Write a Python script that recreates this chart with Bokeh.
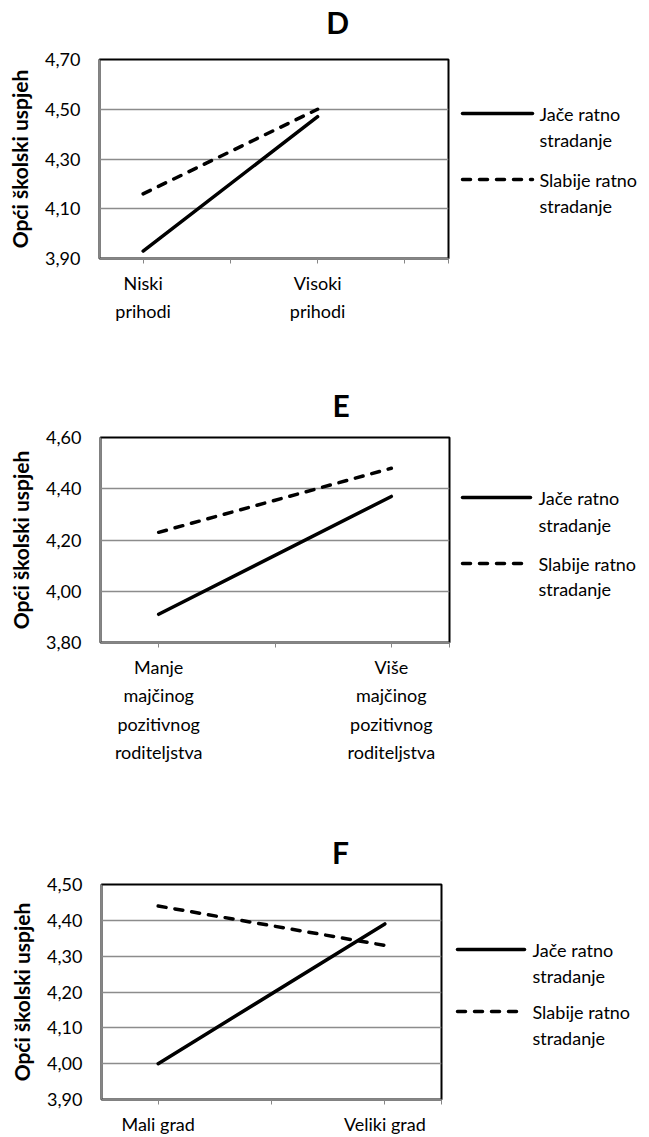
from bokeh.plotting import figure
from bokeh.layouts import column, row
from bokeh.models import Range1d, FixedTicker, CustomJSTickFormatter
from bokeh.core.properties import value
from bokeh.embed import file_html
from bokeh.resources import INLINE

# ---------------- data ----------------
series_names = ["Jače ratno", "Slabije ratno"]
series_second_line = "stradanje"
y_label = "Opći školski uspjeh"

title_D = "D"
cats_D = ["Niski\nprihodi", "Visoki\nprihodi"]
catpos_D = [1, 3]
ncats_D = 4
jace_D = [3.93, 4.47]
slabije_D = [4.16, 4.50]
yticks_D = [3.90, 4.10, 4.30, 4.50, 4.70]

title_E = "E"
cats_E = ["Manje\nmajčinog\npozitivnog\nroditeljstva",
          "Više\nmajčinog\npozitivnog\nroditeljstva"]
catpos_E = [1, 3]
ncats_E = 3
jace_E = [3.91, 4.37]
slabije_E = [4.23, 4.48]
yticks_E = [3.80, 4.00, 4.20, 4.40, 4.60]

title_F = "F"
cats_F = ["Mali grad", "Veliki grad"]
catpos_F = [1, 3]
ncats_F = 3
jace_F = [4.00, 4.39]
slabije_F = [4.44, 4.33]
yticks_F = [3.90, 4.00, 4.10, 4.20, 4.30, 4.40, 4.50]

FONT = "Lato"
GRID = "#8c8c8c"
AXIS = "#868686"
PAGE_W = 649
LINE_W = 3.5
DASH = "8 9"


def blank_fig(width, height, x_range, y_range, b_left=0, b_right=0,
              b_top=0, b_bottom=0):
    f = figure(width=width, height=height, x_range=x_range, y_range=y_range,
               x_axis_location=None, y_axis_location=None,
               min_border_left=b_left, min_border_right=b_right,
               min_border_top=b_top, min_border_bottom=b_bottom,
               output_backend="svg", toolbar_location=None)
    f.outline_line_color = None
    f.grid.visible = False
    return f


def make_title(text, b_left, page_top, page_bottom, cx, cy):
    """Panel letter in its own strip; ranges are page pixels."""
    t = blank_fig(PAGE_W, page_bottom - page_top,
                  Range1d(b_left, PAGE_W), Range1d(page_bottom, page_top),
                  b_left=b_left)
    t.text(x=[cx], y=[cy], text=[text], text_font=value(FONT),
           text_font_style="bold", text_font_size=value("30px"),
           text_color="black", text_align="center", text_baseline="middle")
    return t


def make_chart(cats, catpos, ncats, jace, slabije, yticks,
               height, b_left, b_top, b_bottom, frame_w, b_right):
    width = b_left + frame_w + b_right
    p = figure(width=width, height=height,
               x_range=Range1d(0.5, ncats + 0.5),
               y_range=Range1d(yticks[0], yticks[-1]),
               output_backend="svg", toolbar_location=None,
               min_border_left=b_left, min_border_top=b_top,
               min_border_bottom=b_bottom, min_border_right=b_right)
    p.outline_line_color = "black"
    p.outline_line_width = 2
    p.background_fill_color = "white"
    p.border_fill_color = "white"

    p.line(catpos, jace, line_color="black", line_width=LINE_W,
           line_cap="round")
    p.line(catpos, slabije, line_color="black", line_width=LINE_W,
           line_dash=DASH, line_cap="round")

    # y axis
    yax = p.yaxis[0]
    yax.ticker = FixedTicker(ticks=yticks)
    yax.formatter = CustomJSTickFormatter(
        code="return tick.toFixed(2).replace('.', ',');")
    yax.axis_label = y_label
    yax.axis_label_text_font = FONT
    yax.axis_label_text_font_style = "bold"
    yax.axis_label_text_font_size = "21px"
    yax.axis_label_text_color = "black"
    yax.axis_label_standoff = 10
    yax.major_label_text_font = FONT
    yax.major_label_text_font_size = "18px"
    yax.major_label_text_color = "black"
    yax.major_label_standoff = 19
    yax.major_tick_out = 0
    yax.major_tick_in = 0
    yax.minor_tick_out = 0
    yax.minor_tick_in = 0
    yax.axis_line_color = AXIS
    yax.axis_line_width = 1.5

    # x axis
    labels = {str(pos): c for pos, c in zip(catpos, cats)}
    xax = p.xaxis[0]
    xax.ticker = FixedTicker(ticks=list(range(1, ncats + 1)) + [ncats + 0.5])
    xax.formatter = CustomJSTickFormatter(
        args=dict(labels=labels),
        code="const k = String(tick); return (k in labels) ? labels[k] : '';")
    xax.major_label_text_font = FONT
    xax.major_label_text_font_size = "18px"
    xax.major_label_text_color = "black"
    xax.major_label_text_line_height = 1.3
    xax.major_label_standoff = 8
    xax.major_tick_out = 5
    xax.major_tick_in = 0
    xax.minor_tick_out = 0
    xax.minor_tick_in = 0
    xax.major_tick_line_color = AXIS
    xax.axis_line_color = AXIS
    xax.axis_line_width = 1.5

    p.xgrid.visible = False
    p.ygrid.grid_line_color = GRID
    p.ygrid.grid_line_width = 1.5
    return p


def make_legend(x0, fig_top, fig_bottom, b_top, b_bottom,
                sample_x, text_x, rows):
    """Legend in its own panel whose frame lines up with the chart's frame;
    ranges are page pixels."""
    frame_top = fig_top + b_top
    frame_bottom = fig_bottom - b_bottom
    lf = blank_fig(PAGE_W - x0, fig_bottom - fig_top,
                   Range1d(x0, PAGE_W), Range1d(frame_bottom, frame_top),
                   b_top=b_top, b_bottom=b_bottom)
    lf.line(sample_x, [rows[0], rows[0]], line_color="black",
            line_width=LINE_W, line_cap="round")
    lf.line(sample_x, [rows[2], rows[2]], line_color="black",
            line_width=LINE_W, line_dash=DASH, line_cap="round")
    lf.text(x=[text_x] * 4, y=rows,
            text=[series_names[0], series_second_line,
                  series_names[1], series_second_line],
            text_font=value(FONT), text_font_size=value("18px"),
            text_color="black", text_align="left", text_baseline="middle")
    return lf


# ---- panel D: page rows 0..348 (title 0..42, chart 42..348)
tD = make_title(title_D, 99, 0, 42, 336, 21)
cD = make_chart(cats_D, catpos_D, ncats_D, jace_D, slabije_D, yticks_D,
                height=306, b_left=99, b_top=17, b_bottom=90, frame_w=349,
                b_right=6)
lD = make_legend(454, 42, 348, 17, 90, [462, 532], 539, [113, 139, 179, 205])

# ---- panel E: page rows 348..788 (title 348..424, chart 424..788)
tE = make_title(title_E, 100, 348, 424, 340, 404)
cE = make_chart(cats_E, catpos_E, ncats_E, jace_E, slabije_E, yticks_E,
                height=364, b_left=100, b_top=13, b_bottom=146, frame_w=349,
                b_right=6)
lE = make_legend(455, 424, 788, 13, 146, [462, 530], 538, [497, 524, 563, 588])

# ---- panel F: page rows 788..1137 (title 788..871, chart 871..1137)
tF = make_title(title_F, 101, 788, 871, 340, 851)
cF = make_chart(cats_F, catpos_F, ncats_F, jace_F, slabije_F, yticks_F,
                height=266, b_left=101, b_top=13, b_bottom=38, frame_w=340,
                b_right=6)
lF = make_legend(447, 871, 1137, 13, 38, [457, 524], 532, [949, 975, 1011, 1037])

layout = column(tD, row(cD, lD, spacing=0),
                tE, row(cE, lE, spacing=0),
                tF, row(cF, lF, spacing=0), spacing=0)
open("out.html", "w").write(file_html(layout, INLINE))
